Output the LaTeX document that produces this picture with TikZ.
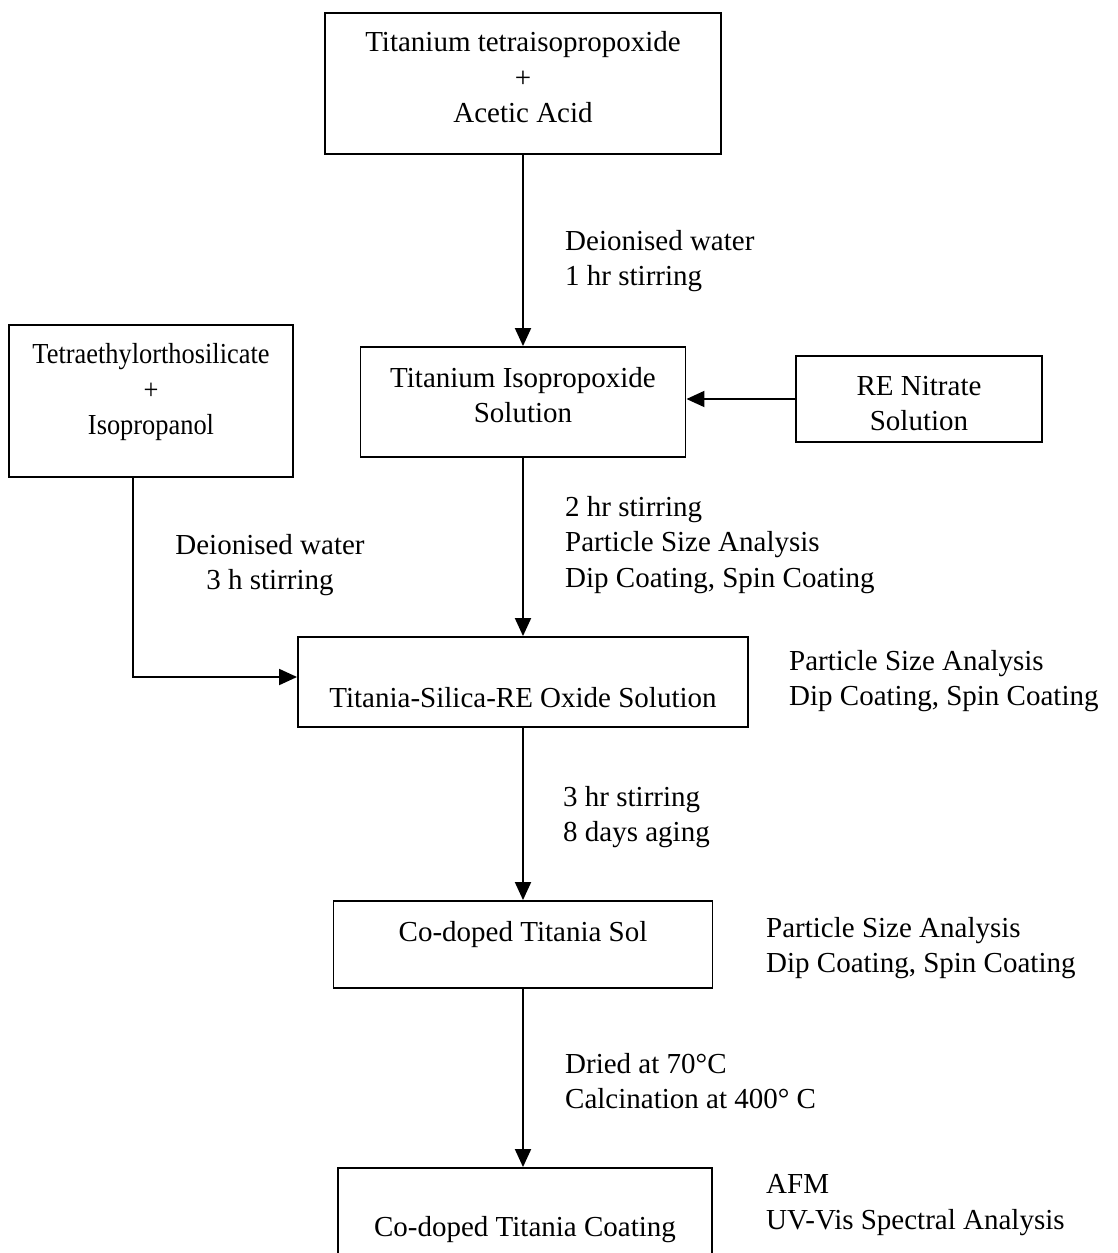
\documentclass[tikz,border=0pt]{standalone}
\usepackage{fontspec}
\setmainfont{Liberation Serif}
\newfontfamily\narrowserif[FakeStretch=0.91]{Liberation Serif}
\usetikzlibrary{arrows.meta, positioning}
\newcommand{\flowfont}{\fontsize{29}{35.5}\selectfont}
% invisible struts to nudge text inside the boxes
\newcommand{\lowstrut}[1]{\rule[-#1]{0pt}{0pt}}
\newcommand{\highstrut}[1]{\rule{0pt}{#1}}

\begin{document}
\begin{tikzpicture}[
    x=1pt, y=-1pt,
    box/.style={rectangle, draw=black, line width=1.9pt, align=center, font=\flowfont, inner sep=0pt},
    note/.style={align=left, font=\flowfont, inner sep=0pt, anchor=west},
    arrow/.style={-{Triangle[length=18pt, width=16pt]}, line width=1.9pt}
]
\useasboundingbox (0,0) rectangle (1118,1253);

% === Starting materials ===
\node[box, minimum width=396pt, minimum height=141pt] (tip) at (523,83.5) {Titanium tetraisopropoxide\\+\\Acetic Acid\lowstrut{12.5pt}};
\node[box, minimum width=284pt, minimum height=152pt, font=\flowfont\narrowserif] (teos) at (151,401) {Tetraethylorthosilicate\\+\\Isopropanol\lowstrut{24pt}};
\node[box, minimum width=246pt, minimum height=86pt] (renit) at (919,399) {\highstrut{28pt}RE Nitrate\\Solution};

% === Main process chain ===
\node[box, minimum width=325pt, minimum height=110pt] (tiip) at (523,402) {Titanium Isopropoxide\\Solution\lowstrut{14pt}};
\node[box, minimum width=450pt, text height=70pt, text depth=20pt] (tsre) at (523,682) {Titania-Silica-RE Oxide Solution};
\node[box, minimum width=379pt, text height=40pt, text depth=47pt] (sol) at (523,944.5) {Co-doped Titania Sol};
\node[box, minimum width=374pt, text height=68pt, text depth=54pt] (coat) at (525,1229) {Co-doped Titania Coating};

% === Step conditions ===
\node[note] (cond1) at (565,261) {Deionised water\\1 hr stirring};
\node[note] (cond2) at (565,545) {2 hr stirring\\Particle Size Analysis\\Dip Coating, Spin Coating};
\node[note, align=center, anchor=center] (cond3) at (270,565) {Deionised water\\3 h stirring};
\node[note] (cond4) at (563,817) {3 hr stirring\\8 days aging};
\node[note] (cond5) at (565,1081) {Dried at 70°C\\Calcination at 400° C};

% === Characterisation ===
\node[note] (char1) at (789,681) {Particle Size Analysis\\Dip Coating, Spin Coating};
\node[note] (char2) at (766,948) {Particle Size Analysis\\Dip Coating, Spin Coating};
\node[note] (char3) at (766,1205) {AFM\\UV-Vis Spectral Analysis};

% === Arrows ===
\draw[arrow] (tip.south) -- (tiip.north);
\draw[arrow] (renit.west) -- (renit.west -| tiip.east);
\draw[arrow] (tiip.south) -- (tsre.north);
\draw[arrow] ([xshift=-18pt]teos.south) |- ([yshift=5pt]tsre.west);
\draw[arrow] (tsre.south) -- (sol.north);
\draw[arrow] (sol.south) -- (sol.south |- coat.north);

\end{tikzpicture}
\end{document}
